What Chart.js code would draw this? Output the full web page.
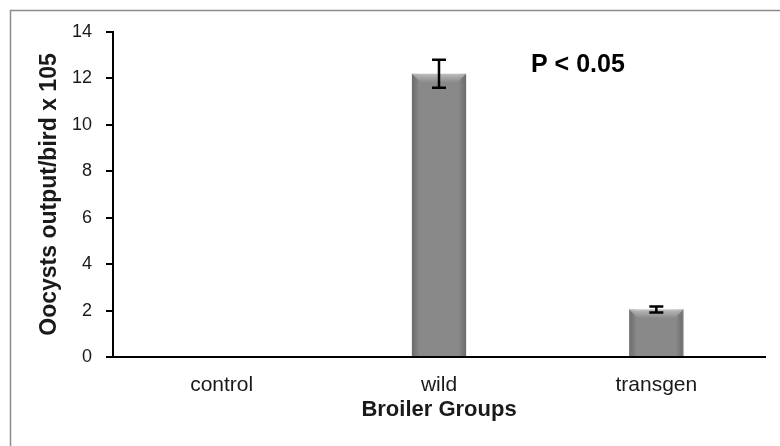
<!DOCTYPE html>
<html>
<head>
<meta charset="utf-8">
<script src="https://cdn.jsdelivr.net/npm/chart.js@4/dist/chart.umd.min.js"></script>
<style>
  html, body { margin: 0; padding: 0; background: #fff; }
  #wrap { width: 780px; height: 446px; position: relative; }
</style>
</head>
<body>
<div id="wrap"><canvas id="grafico" width="780" height="446"></canvas></div>
<script>
// dados
const grupos = ["control", "wild", "transgen"];
const oocistos = [0, 12.2, 2.05];
const erros = [0, 0.6, 0.13];
const ticksY = [0, 2, 4, 6, 8, 10, 12, 14];
const textoP = "P < 0.05";

const FONTE = "'Liberation Sans', Arial, sans-serif";

// moldura cinza (só topo e esquerda aparecem na imagem)
const pluginMoldura = {
  id: "moldura",
  beforeDraw(chart) {
    const ctx = chart.ctx;
    ctx.save();
    ctx.fillStyle = "#fff";
    ctx.fillRect(0, 0, chart.width, chart.height);
    ctx.strokeStyle = "#8c8c8c";
    ctx.lineWidth = 1.5;
    ctx.beginPath();
    ctx.moveTo(10.5, chart.height);
    ctx.lineTo(10.5, 10.5);
    ctx.lineTo(chart.width, 10.5);
    ctx.stroke();
    ctx.restore();
  },
};

// sombreado das barras + barras de erro
const pluginErros = {
  id: "barrasErro",
  afterDatasetsDraw(chart) {
    const ctx = chart.ctx;
    const meta = chart.getDatasetMeta(0);
    const y = chart.scales.y;
    ctx.save();

    // efeito de relevo estilo Excel
    meta.data.forEach((barra) => {
      const alt = barra.base - barra.y;
      if (alt < 1) return;
      const esq = barra.x - barra.width / 2;
      const dir = barra.x + barra.width / 2;
      const g = ctx.createLinearGradient(esq, 0, dir, 0);
      g.addColorStop(0, "rgba(80,80,80,0.55)");
      g.addColorStop(0.14, "rgba(80,80,80,0)");
      g.addColorStop(0.86, "rgba(80,80,80,0)");
      g.addColorStop(1, "rgba(80,80,80,0.55)");
      ctx.fillStyle = g;
      ctx.fillRect(esq, barra.y, barra.width, alt);

      const topo = Math.min(9, alt);
      const g2 = ctx.createLinearGradient(0, barra.y, 0, barra.y + topo);
      g2.addColorStop(0, "rgba(200,200,200,0.8)");
      g2.addColorStop(1, "rgba(200,200,200,0)");
      ctx.fillStyle = g2;
      ctx.beginPath();
      ctx.moveTo(esq, barra.y);
      ctx.lineTo(dir, barra.y);
      ctx.lineTo(dir - topo, barra.y + topo);
      ctx.lineTo(esq + topo, barra.y + topo);
      ctx.closePath();
      ctx.fill();
    });

    ctx.strokeStyle = "#000";
    ctx.lineWidth = 2.5;
    meta.data.forEach((barra, i) => {
      const e = erros[i];
      if (!e) return;
      const v = oocistos[i];
      const yTopo = y.getPixelForValue(v + e);
      const yBase = y.getPixelForValue(v - e);
      const x = barra.x;
      const meio = 7;
      ctx.beginPath();
      ctx.moveTo(x, yTopo);
      ctx.lineTo(x, yBase);
      ctx.moveTo(x - meio, yTopo);
      ctx.lineTo(x + meio, yTopo);
      ctx.moveTo(x - meio, yBase);
      ctx.lineTo(x + meio, yBase);
      ctx.stroke();
    });
    ctx.restore();
  },
};

// texto P < 0.05
const pluginTextoP = {
  id: "textoP",
  afterDraw(chart) {
    const ctx = chart.ctx;
    ctx.save();
    ctx.font = "bold 25px " + FONTE;
    ctx.fillStyle = "#000";
    ctx.textAlign = "left";
    ctx.textBaseline = "alphabetic";
    ctx.fillText(textoP, 531, 72);
    ctx.restore();
  },
};

new Chart(document.getElementById("grafico"), {
  type: "bar",
  data: {
    labels: grupos,
    datasets: [
      {
        data: oocistos,
        backgroundColor: "#898989",
        borderColor: "#777777",
        borderWidth: 1,
        categoryPercentage: 1,
        barPercentage: 0.25,
      },
    ],
  },
  options: {
    responsive: false,
    animation: false,
    devicePixelRatio: 1,
    layout: { padding: { top: 32, right: 15, left: 0, bottom: 0 } },
    plugins: {
      legend: { display: false },
      tooltip: { enabled: false },
    },
    scales: {
      x: {
        afterFit: (s) => { s.height = 446 - 357; },
        grid: { display: false },
        border: { display: true, color: "#000", width: 2 },
        ticks: {
          color: "#1a1a1a",
          padding: 8,
          font: { family: FONTE, size: 21 },
        },
        title: {
          display: true,
          text: "Broiler Groups",
          color: "#1a1a1a",
          padding: { top: 0, bottom: 23 },
          font: { family: FONTE, size: 22, weight: "bold" },
        },
      },
      y: {
        min: 0,
        max: 14,
        afterFit: (s) => { s.width = 113; },
        afterBuildTicks: (s) => { s.ticks = ticksY.map((v) => ({ value: v })); },
        grid: {
          drawOnChartArea: false,
          drawTicks: true,
          tickLength: 7,
          color: "#000",
          lineWidth: 2,
        },
        border: { display: true, color: "#000", width: 2 },
        ticks: {
          color: "#1a1a1a",
          padding: 14,
          font: { family: FONTE, size: 18 },
        },
        title: {
          display: true,
          text: "Oocysts output/bird x 105",
          color: "#1a1a1a",
          padding: { top: 36, bottom: 0 },
          font: { family: FONTE, size: 23, weight: "bold" },
        },
      },
    },
  },
  plugins: [pluginMoldura, pluginErros, pluginTextoP],
});
</script>
</body>
</html>
